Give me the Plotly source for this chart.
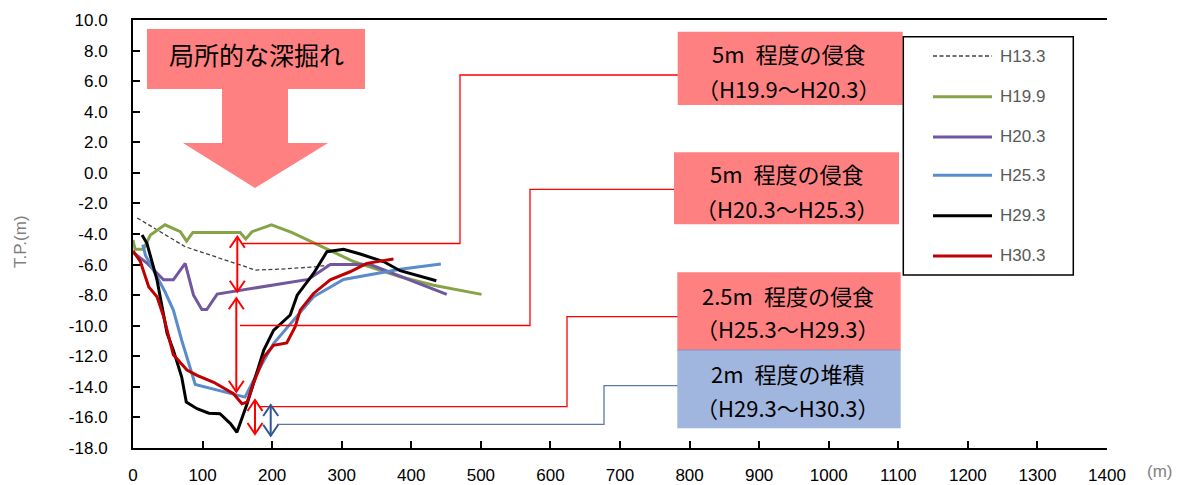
import plotly.graph_objects as go

# ---- data (distance m, elevation T.P. m) ----
x_h133 = [6, 75, 176, 212, 264, 283]
y_h133 = [-2.95, -4.83, -6.36, -6.3, -6.14, -6.02]

x_h199 = [0, 3, 15, 25, 46, 68, 77, 86, 154, 162, 171, 199, 228, 317, 384, 432, 501]
y_h199 = [-4.4, -5.0, -5.0, -4.07, -3.4, -3.85, -4.46, -3.9, -3.9, -4.33, -3.85, -3.4, -3.9, -5.8, -6.8, -7.35, -7.95]

x_h203 = [0, 20, 44, 58, 75, 87, 99, 106, 121, 252, 283.5, 341, 451]
y_h203 = [-5.2, -5.9, -7.0, -7.0, -5.92, -8.0, -8.94, -8.94, -7.93, -6.97, -6.0, -6.0, -7.95]

x_h253 = [14, 18, 46, 58, 70, 89.5, 161, 183, 202, 231, 259.5, 302.6, 384, 442.5]
y_h253 = [-4.7, -5.4, -7.78, -8.98, -10.95, -13.84, -14.67, -12.7, -11.17, -9.64, -8.11, -6.97, -6.3, -5.97]

x_h293 = [13, 20, 34.5, 49, 58, 70, 76.6, 92, 109, 125, 140, 149.4, 164, 188, 202, 216, 226, 236, 259.5, 278.7, 302.6, 326.6, 360, 384, 436]
y_h293 = [-4.07, -4.61, -7.0, -10.5, -11.6, -13.36, -15.0, -15.43, -15.72, -15.76, -16.4, -16.97, -15.1, -11.6, -10.3, -9.75, -9.3, -8.0, -6.58, -5.16, -5.0, -5.31, -5.8, -6.4, -7.06]

x_h303 = [0, 10.5, 22.7, 34.5, 44, 58, 77.6, 92, 116, 144.5, 156.6, 164, 173, 188, 202, 221, 233, 240.4, 259.5, 283.5, 312, 336, 374.4]
y_h303 = [-5.1, -5.8, -7.46, -8.1, -9.4, -11.9, -12.9, -13.25, -13.7, -14.45, -15.1, -15.0, -13.8, -12.05, -11.28, -11.13, -10.08, -8.98, -7.89, -7.0, -6.47, -5.92, -5.64]

series_names = ["H13.3", "H19.9", "H20.3", "H25.3", "H29.3", "H30.3"]
series_x = [x_h133, x_h199, x_h203, x_h253, x_h293, x_h303]
series_y = [y_h133, y_h199, y_h203, y_h253, y_h293, y_h303]
series_colors = ["#404040", "#86A447", "#7256A0", "#5A8CCB", "#000000", "#C00000"]
series_dash = ["4px,2.5px", "solid", "solid", "solid", "solid", "solid"]
series_width = [1.3, 3, 3, 3, 3, 3]

x_ticks = list(range(0, 1401, 100))
y_ticks = list(range(-18, 11, 2))

# ---- layout geometry (pixels, in reference-image coordinates) ----
PAGE_OFF = 8                      # default body margin of the html page
W_FIG, H_FIG = 1186 - 2 * PAGE_OFF, 485 - PAGE_OFF
L, T, PW, PH = 133, 20, 974, 428  # plot area in page pixels


def px(x):
    return (x - L) / PW


def py(y):
    return (T + PH - y) / PH


def path(points):
    return "M " + " L ".join(f"{px(a):.5f},{py(b):.5f}" for a, b in points) + " Z"


def openpath(points):
    return "M " + " L ".join(f"{px(a):.5f},{py(b):.5f}" for a, b in points)


fig = go.Figure()
for n, xs, ys, c, d, w in zip(series_names, series_x, series_y, series_colors, series_dash, series_width):
    fig.add_trace(go.Scatter(x=xs, y=ys, mode="lines", name=n, showlegend=False,
                             line=dict(color=c, width=w, dash=d)))

shapes = []
anns = []
PINK = "#FF8080"
BLUE_BOX = "#A0B6DE"
RED = "#FF0000"
DBLUE = "#2F5597"
CONN_BLUE = "#5A78B0"
JP = "Noto Sans CJK JP"

# big pink arrow
shapes.append(dict(type="path", xref="paper", yref="paper", layer="above",
                   path=path([(147, 29), (365, 29), (365, 89), (288, 89), (288, 143), (328, 143),
                              (255, 188), (183, 143), (222, 143), (222, 89), (147, 89)]),
                   fillcolor=PINK, line=dict(width=0)))
anns.append(dict(x=px(256), y=py(54), xref="paper", yref="paper", text="局所的な深掘れ",
                 xanchor="center", yanchor="middle",
                 showarrow=False, font=dict(family=JP, size=25, color="black")))

# connector lines
shapes.append(dict(type="path", xref="paper", yref="paper", path=openpath([(243, 243.5), (460, 243.5), (460, 75), (678, 75)]),
                   line=dict(color=RED, width=1.3)))
shapes.append(dict(type="path", xref="paper", yref="paper", path=openpath([(240, 325.5), (530, 325.5), (530, 189.3), (675, 189.3)]),
                   line=dict(color=RED, width=1.3)))
shapes.append(dict(type="path", xref="paper", yref="paper", path=openpath([(259, 406.7), (567, 406.7), (567, 316.7), (678, 316.7)]),
                   line=dict(color=RED, width=1.3)))
shapes.append(dict(type="path", xref="paper", yref="paper", path=openpath([(277, 424.3), (604, 424.3), (604, 385.7), (678, 385.7)]),
                   line=dict(color=CONN_BLUE, width=1.3)))

# callout boxes
SP = "\u2002"
boxes = [
    (677.7, 31.7, 902.7, 105, PINK, f"5m{SP}程度の侵食", "（H19.9～H20.3）", 789, 53.3, 88.3),
    (674, 152.3, 899, 224.3, PINK, f"5m{SP}程度の侵食", "（H20.3～H25.3）", 786.7, 173.3, 208.3),
    (677.3, 272.3, 900.7, 350, PINK, f"2.5m{SP}程度の侵食", "（H25.3～H29.3）", 788, 295, 328.3),
    (677.3, 350, 900.7, 428.3, BLUE_BOX, f"2m{SP}程度の堆積", "（H29.3～H30.3）", 787.5, 373.3, 406.7),
]
for x0, y0, x1, y1, col, t1, t2, cx, ty1, ty2 in boxes:
    shapes.append(dict(type="rect", xref="paper", yref="paper", x0=px(x0), x1=px(x1), y0=py(y1), y1=py(y0),
                       fillcolor=col, line=dict(width=0)))
    for t, ty in ((t1, ty1), (t2, ty2)):
        anns.append(dict(x=px(cx), y=py(ty), xref="paper", yref="paper", text=t, showarrow=False,
                         xanchor="center", yanchor="middle",
                         font=dict(family=JP, size=22, color="black")))
shapes.append(dict(type="line", xref="paper", yref="paper", x0=px(677.3), x1=px(900.7), y0=py(350), y1=py(350),
                   line=dict(color="#8E8EC0", width=1)))


# double arrows
def dbl_arrow(x, ytop, ybot, color):
    shapes.append(dict(type="line", xref="paper", yref="paper", x0=px(x), x1=px(x), y0=py(ytop), y1=py(ybot),
                       line=dict(color=color, width=2)))
    shapes.append(dict(type="path", xref="paper", yref="paper",
                       path=openpath([(x - 7.5, ytop + 11), (x, ytop), (x + 7.5, ytop + 11)]),
                       line=dict(color=color, width=2)))
    shapes.append(dict(type="path", xref="paper", yref="paper",
                       path=openpath([(x - 7.5, ybot - 11), (x, ybot), (x + 7.5, ybot - 11)]),
                       line=dict(color=color, width=2)))


dbl_arrow(237.3, 236.7, 291.7, RED)
dbl_arrow(236.3, 298.3, 391.7, RED)
dbl_arrow(255, 400, 434, RED)
dbl_arrow(270.7, 405, 435.7, DBLUE)

# custom legend
shapes.append(dict(type="rect", xref="paper", yref="paper", x0=px(903.3), x1=px(1073.3), y0=py(275), y1=py(36.7),
                   fillcolor="white", line=dict(color="black", width=1.5)))
leg_y = [56, 96.7, 137, 175.3, 215.7, 256]
for n, c, d, w, ly in zip(series_names, series_colors, series_dash, series_width, leg_y):
    shapes.append(dict(type="line", xref="paper", yref="paper", x0=px(933), x1=px(992), y0=py(ly), y1=py(ly),
                       line=dict(color=c, width=w, dash=d)))
    anns.append(dict(x=px(998), y=py(ly), xref="paper", yref="paper", text=n, showarrow=False,
                     xanchor="left", yanchor="middle",
                     font=dict(family="Liberation Sans", size=17, color="#595959")))

# axis titles
anns.append(dict(x=px(20), y=py(242), xref="paper", yref="paper", text="T.P.(m)", showarrow=False, textangle=-90,
                 xanchor="center", yanchor="middle",
                 font=dict(family="Liberation Sans", size=17, color="#7F7F7F")))
anns.append(dict(x=px(1159), y=py(471), xref="paper", yref="paper", text="(m)", showarrow=False,
                 xanchor="center", yanchor="middle",
                 font=dict(family="Liberation Sans", size=17, color="#7F7F7F")))

fig.update_layout(
    width=W_FIG, height=H_FIG,
    margin=dict(l=L - PAGE_OFF, r=W_FIG - (L - PAGE_OFF) - PW, t=T - PAGE_OFF, b=H_FIG - (T - PAGE_OFF) - PH),
    paper_bgcolor="white", plot_bgcolor="white",
    shapes=shapes, annotations=anns, showlegend=False,
    xaxis=dict(range=[0, 1400], tickvals=x_ticks, ticktext=[str(v) for v in x_ticks],
               automargin=False,
               showgrid=False, zeroline=False, showline=True, linecolor="black", linewidth=2,
               mirror=True, ticks="inside", ticklen=7, tickwidth=1.5, tickcolor="black",
               ticklabelstandoff=11,
               tickfont=dict(family="Liberation Sans", size=17, color="black")),
    yaxis=dict(range=[-18, 10], tickvals=y_ticks, ticktext=[f"{v:.1f}" for v in y_ticks],
               automargin=False,
               showgrid=False, zeroline=False, showline=True, linecolor="black", linewidth=2,
               ticks="inside", ticklen=7, tickwidth=1.5, tickcolor="black",
               ticklabelstandoff=20,
               tickfont=dict(family="Liberation Sans", size=17, color="black")),
)

fig.write_html("out.html")
